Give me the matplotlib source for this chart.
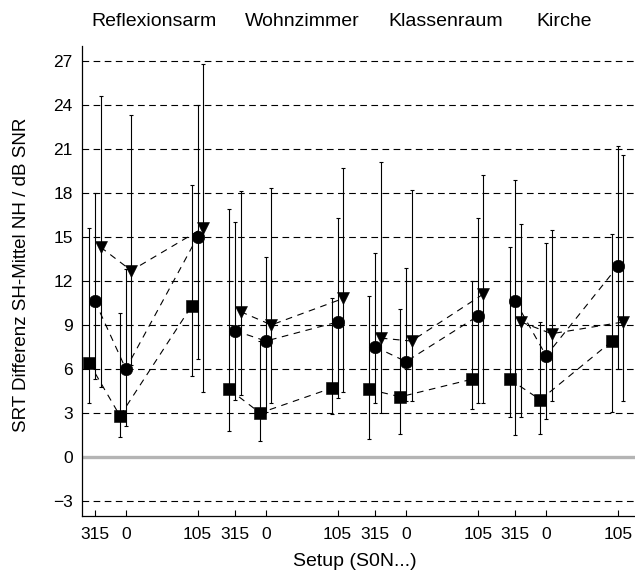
import numpy as np
import matplotlib
matplotlib.use('Agg')
import matplotlib.pyplot as plt

plt.rcParams['font.family'] = ['Liberation Sans', 'DejaVu Sans']

# Rooms and loudspeaker setups (S0N azimuth in degrees)
rooms = ['Reflexionsarm', 'Wohnzimmer', 'Klassenraum', 'Kirche']
setups = ['315', '0', '105']
azimuths = [315, 0, 105]

# square series: mean, lower and upper end of the bar (per room x setup)
sq_mean = [6.4, 2.8, 10.3, 4.6, 3.0, 4.7, 4.6, 4.1, 5.3, 5.3, 3.9, 7.9]
sq_low = [3.7, 1.35, 5.5, 1.8, 1.1, 2.9, 1.2, 1.6, 3.3, 2.7, 1.6, 3.1]
sq_high = [15.6, 9.8, 18.5, 16.9, 7.9, 10.8, 11.0, 10.1, 12.0, 14.3, 9.2, 15.2]

# circle series
ci_mean = [10.6, 6.0, 15.0, 8.6, 7.9, 9.2, 7.5, 6.5, 9.6, 10.6, 6.9, 13.0]
ci_low = [5.3, 2.1, 6.65, 3.9, 3.1, 4.0, 3.7, 3.8, 3.7, 1.5, 2.6, 6.0]
ci_high = [18.0, 12.8, 24.0, 16.0, 13.65, 16.3, 13.9, 12.9, 16.3, 18.9, 14.6, 21.2]

# triangle series
tr_mean = [14.3, 12.7, 15.6, 9.9, 9.0, 10.8, 8.1, 7.9, 11.1, 9.2, 8.4, 9.2]
tr_low = [4.8, 6.3, 4.45, 4.2, 3.7, 4.4, 3.0, 3.8, 3.7, 2.7, 3.8, 3.8]
tr_high = [24.6, 23.3, 26.8, 18.1, 18.3, 19.7, 20.1, 18.2, 19.2, 15.9, 15.5, 20.6]

# x positions: azimuth wrapped to (-180, 180], rooms shifted along x
room_step = 205
az = np.array([a - 360 if a > 180 else a for a in azimuths])
xpos = np.concatenate([i * room_step + az for i in range(len(rooms))])

fig = plt.figure(figsize=(6.35, 5.71), dpi=100)
ax = fig.add_axes([0.1287, 0.0968, 0.8713, 0.8226])

yt = np.arange(-3, 28, 3)
for v in yt:
    if v == 0:
        continue
    ax.axhline(v, color='black', lw=0.8, ls=(0, (6, 4)), zorder=1)
ax.axhline(0, color='#b4b4b4', lw=2.4, zorder=1)

series = [
    (sq_mean, sq_low, sq_high, 's', 8.6, -8.5),
    (ci_mean, ci_low, ci_high, 'o', 9.0, 0.0),
    (tr_mean, tr_low, tr_high, 'v', 8.6, 8.0),
]

n = len(setups)
for mean, low, high, mk, ms, dx in series:
    mean = np.array(mean)
    err = np.vstack([mean - np.array(low), np.array(high) - mean])
    x = xpos + dx
    ax.errorbar(x, mean, yerr=err, fmt='none', ecolor='black',
                elinewidth=0.8, capsize=1.6, capthick=0.8, zorder=2)
    for g in range(len(rooms)):
        sl = slice(g * n, (g + 1) * n)
        ax.plot(x[sl], mean[sl], color='black', lw=0.8, ls=(0, (6, 5)),
                zorder=3)
    ax.plot(x, mean, ls='none', marker=mk, ms=ms, color='black',
            mec='black', mew=0.4, zorder=4)

ax.set_xlim(-64.5, 745)
ax.set_ylim(-4, 28)
ax.set_yticks(yt)
ax.set_xticks(xpos)
ax.set_xticklabels(setups * len(rooms))
ax.tick_params(axis='x', direction='in', length=4, width=0.8, pad=8,
               labelsize=12.5)
ax.tick_params(axis='y', direction='in', length=0, pad=6.5, labelsize=12.5)

for s in ['top', 'right']:
    ax.spines[s].set_visible(False)
for s in ['left', 'bottom']:
    ax.spines[s].set_linewidth(0.9)

ax.set_xlabel('Setup (S0N...)', fontsize=14)
ax.xaxis.set_label_coords(0.494, -0.0964)
ax.xaxis.label.set_va('center')
ax.set_ylabel('SRT Differenz SH-Mittel NH / dB SNR', fontsize=13.5)
ax.yaxis.set_label_coords(-0.108, 0.512)
ax.yaxis.label.set_va('center')

title_x = [154, 302.5, 445.5, 564]
for name, tx in zip(rooms, title_x):
    fig.text(tx / 635, 1 - 21 / 571, name, ha='center', va='center',
             fontsize=14)

fig.savefig('out.png', dpi=100)
